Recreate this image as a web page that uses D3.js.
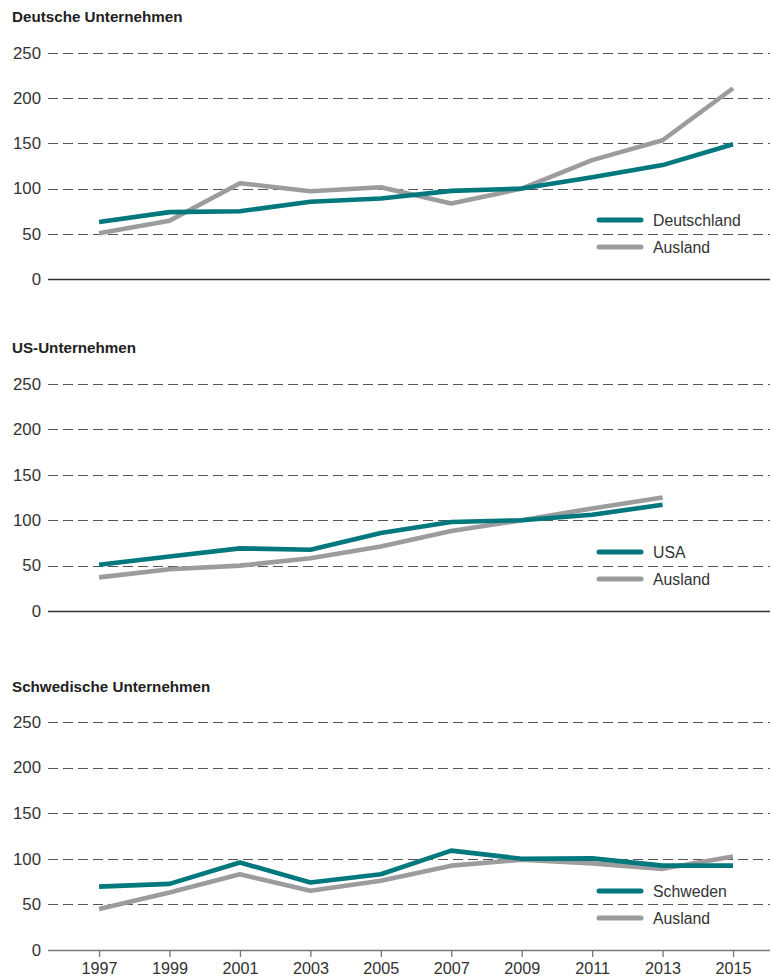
<!DOCTYPE html>
<html>
<head>
<meta charset="utf-8">
<script src="https://cdn.jsdelivr.net/npm/d3@7/dist/d3.min.js"></script>
<style>
  html, body { margin: 0; padding: 0; background: #fff; }
  svg { display: block; }
</style>
</head>
<body>
<svg id="chart" width="773" height="979"></svg>
<script>
// ---- data ----
const years = [1997, 1999, 2001, 2003, 2005, 2007, 2009, 2011, 2013, 2015];
const yTicks = [0, 50, 100, 150, 200, 250];

const deTitle = "Deutsche Unternehmen";
const deDeutschland = [63, 74, 75, 85.5, 89, 97.5, 100, 112.5, 126, 149];
const deAusland = [50.5, 64.5, 106, 97, 101.5, 83.5, 100, 131.5, 153.5, 211];

const usTitle = "US-Unternehmen";
const usUSA = [51, 60, 69, 67.5, 86, 98, 100, 106, 117];
const usAusland = [37, 46, 50, 58, 71, 88, 100, 113, 125];

const seTitle = "Schwedische Unternehmen";
const seSchweden = [69.5, 72.5, 96, 74, 83, 109, 100, 100.5, 92.5, 92.5];
const seAusland = [45, 63, 83, 65, 76, 92.5, 99, 95, 89, 102.5];

const seriesNames = [["Deutschland", "Ausland"], ["USA", "Ausland"], ["Schweden", "Ausland"]];

// ---- style ----
const teal = "#00787e";
const grey = "#9c9c9f";
const font = "'Liberation Sans', Arial, sans-serif";

const svg = d3.select("#chart");
const x = d3.scaleLinear().domain([1995.55, 2016.05]).range([48, 770]);

const panels = [
  { title: deTitle, series: [deDeutschland, deAusland], names: seriesNames[0], zero: 279, top: 53, titleY: 22, xAxis: false, zeroColor: "#333" },
  { title: usTitle, series: [usUSA, usAusland], names: seriesNames[1], zero: 611, top: 384, titleY: 353, xAxis: false, zeroColor: "#333" },
  { title: seTitle, series: [seSchweden, seAusland], names: seriesNames[2], zero: 950, top: 722, titleY: 692, xAxis: true, zeroColor: "#777" }
];

panels.forEach(p => {
  const g = svg.append("g");
  const y = d3.scaleLinear().domain([0, 250]).range([p.zero, p.top]);

  g.append("text")
    .attr("x", 12).attr("y", p.titleY)
    .attr("font-family", font).attr("font-weight", "bold")
    .attr("font-size", 15.2).attr("fill", "#222")
    .text(p.title);

  // y axis labels
  const yAxis = d3.axisLeft(y).tickValues(yTicks).tickSize(0).tickPadding(0);
  const ya = g.append("g").attr("transform", "translate(41,0)").call(yAxis);
  ya.select(".domain").remove();
  ya.selectAll("text")
    .attr("font-family", font).attr("font-size", 16.8).attr("fill", "#333");

  // gridlines
  g.selectAll("line.grid").data(yTicks.filter(d => d > 0)).join("line")
    .attr("class", "grid")
    .attr("x1", 48).attr("x2", 770)
    .attr("y1", d => Math.round(y(d)) + 0.5).attr("y2", d => Math.round(y(d)) + 0.5)
    .attr("stroke", "#555").attr("stroke-width", 1)
    .attr("stroke-dasharray", "10,5");

  // zero line
  g.append("line")
    .attr("x1", 48).attr("x2", 770)
    .attr("y1", y(0) + 0.5).attr("y2", y(0) + 0.5)
    .attr("stroke", p.zeroColor).attr("stroke-width", 1.3);

  if (p.xAxis) {
    const xAxis = d3.axisBottom(x).tickValues(years).tickFormat(d3.format("d")).tickSize(7).tickPadding(5);
    const xa = g.append("g").attr("transform", `translate(0,${y(0)})`).call(xAxis);
    xa.select(".domain").remove();
    xa.selectAll("line").attr("stroke", "#777").attr("stroke-width", 1.3);
    xa.selectAll("text").attr("font-family", font).attr("font-size", 16.2).attr("fill", "#333");
  }

  const line = d3.line().x((d, i) => x(years[i])).y(d => y(d));
  const colors = [teal, grey];
  [1, 0].forEach(k => {
    g.append("path")
      .datum(p.series[k])
      .attr("d", line)
      .attr("fill", "none")
      .attr("stroke", colors[k])
      .attr("stroke-width", 4.6)
      .attr("stroke-linejoin", "round");
  });

  // legend
  const ly = [y(0) - 59, y(0) - 32];
  p.names.forEach((n, k) => {
    g.append("line")
      .attr("x1", 599).attr("x2", 641)
      .attr("y1", ly[k]).attr("y2", ly[k])
      .attr("stroke", colors[k]).attr("stroke-width", 5)
      .attr("stroke-linecap", "round");
    g.append("text")
      .attr("x", 653).attr("y", ly[k]).attr("dy", "0.36em")
      .attr("font-family", font).attr("font-size", 15.8).attr("fill", "#333")
      .text(n);
  });
});
</script>
</body>
</html>
